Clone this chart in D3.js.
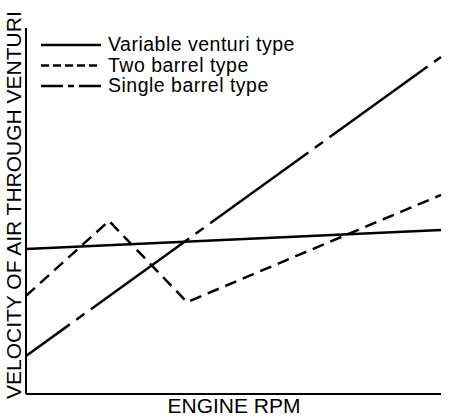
<html>
<head>
<script src="https://d3js.org/d3.v7.min.js"></script>
<style>
  body { margin: 0; background: #fff; }
  text { font-family: "Liberation Sans", Arial, sans-serif; fill: #000; }
</style>
</head>
<body>
<svg width="466" height="420"></svg>
<script>
    // engine rpm in relative units (no scale printed), velocity in relative units
    const seriesNames = ["Variable venturi type", "Two barrel type", "Single barrel type"];
    const variableRpm = [0, 100];
    const variableVel = [39.6, 44.8];
    const twoBarrelRpm = [0, 20, 38.8, 100];
    const twoBarrelVel = [26.8, 47.3, 25.1, 54.4];
    const singleRpm = [0, 100];
    const singleVel = [10.4, 92.1];
    const dashes = [null, "12,7", "121,8,10,8"];

    const series = [
        {name: seriesNames[0], pts: variableRpm.map((r, i) => [r, variableVel[i]]), dash: dashes[0]},
        {name: seriesNames[1], pts: twoBarrelRpm.map((r, i) => [r, twoBarrelVel[i]]), dash: dashes[1]},
        {name: seriesNames[2], pts: singleRpm.map((r, i) => [r, singleVel[i]]), dash: dashes[2], offset: 67}
    ];

    const svg = d3.select("svg");
    const x = d3.scaleLinear().domain([0, 100]).range([26, 441]);
    const y = d3.scaleLinear().domain([0, 100]).range([394, 28]);

    // axes, drawn as plain lines (no ticks on the original)
    svg.append("line")
        .attr("x1", x(0)).attr("x2", x(0))
        .attr("y1", y(0)).attr("y2", y(100))
        .attr("stroke", "black").attr("stroke-width", 2);
    svg.append("line")
        .attr("x1", x(0)).attr("x2", x(100))
        .attr("y1", y(0)).attr("y2", y(0))
        .attr("stroke", "black").attr("stroke-width", 2);

    const line = d3.line().x(d => x(d[0])).y(d => y(d[1]));

    svg.append("g")
        .selectAll("path")
        .data(series)
        .enter()
        .append("path")
        .attr("d", d => line(d.pts))
        .attr("fill", "none")
        .attr("stroke", "black")
        .attr("stroke-width", 2.5)
        .attr("stroke-dasharray", d => d.dash)
        .attr("stroke-dashoffset", d => d.offset || 0);

    // legend
    const legendDash = [null, "8,4", "22,5,6,5"];
    const legend = svg.append("g")
        .selectAll("g")
        .data(series)
        .enter()
        .append("g")
        .attr("transform", (d, i) => `translate(0,${51 + i * 20.5})`);
    legend.append("line")
        .attr("x1", 41).attr("x2", 101)
        .attr("y1", -6).attr("y2", -6)
        .attr("stroke", "black").attr("stroke-width", 2.5)
        .attr("stroke-dasharray", (d, i) => legendDash[i]);
    legend.append("text")
        .attr("x", 108)
        .attr("font-size", 19.5)
        .attr("letter-spacing", 0.5)
        .text(d => d.name);

    // axis titles
    svg.append("text")
        .attr("transform", "translate(21,399) rotate(-90)")
        .attr("font-size", 21)
        .text("VELOCITY OF AIR THROUGH VENTURI");
    svg.append("text")
        .attr("x", 234).attr("y", 413)
        .attr("text-anchor", "middle")
        .attr("font-size", 21)
        .text("ENGINE RPM");
</script>
</body>
</html>
